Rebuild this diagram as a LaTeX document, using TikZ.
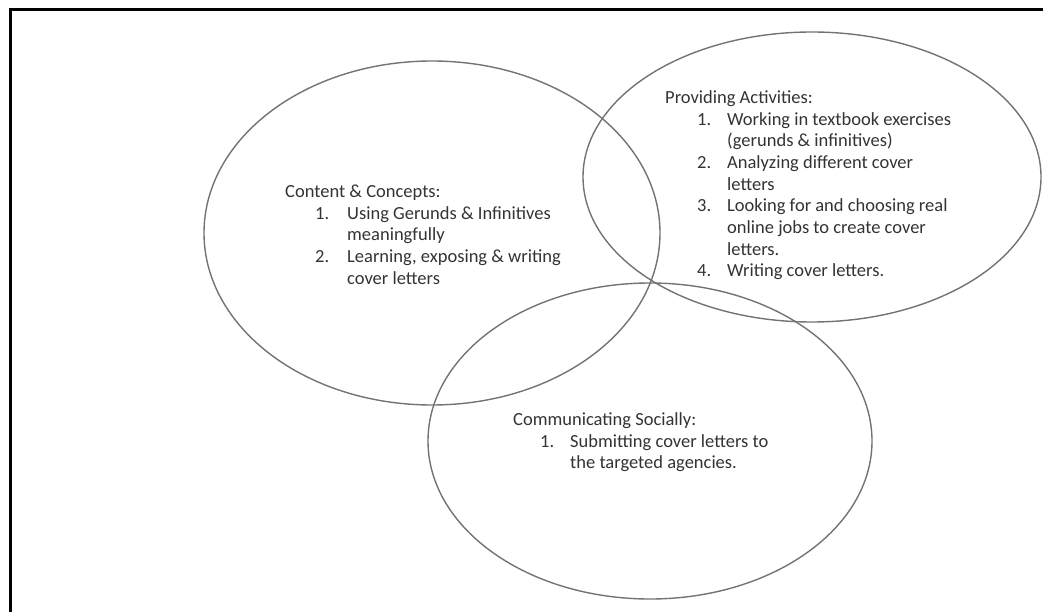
\documentclass[tikz,border=0pt]{standalone}
\usepackage{fontspec}
\setmainfont{Carlito}
\usepackage{array}
\begin{document}
\begin{tikzpicture}[x=1pt,y=-1pt,
  ring/.style={draw=black!55,line width=1.4pt},
  frameline/.style={draw=black,line width=3pt},
  txt/.style={inner sep=0pt,anchor=north west,text=black!80,font=\fontsize{18.5}{21.7}\selectfont}]
\useasboundingbox (0,0) rectangle (1043,612);
\draw[frameline] (9,10) coordinate (ftl) -- (1043,10) coordinate (ftr);
\draw[frameline] (10,9) -- (10,612) coordinate (fbl);
% ellipses
\draw[ring] (432,233) ellipse [x radius=228pt, y radius=172pt];
\draw[ring] (812,177) ellipse [x radius=229pt, y radius=145pt];
\draw[ring] (650,441) ellipse [x radius=222pt, y radius=158pt];
% texts
\node[txt] (cc) at (285,182) {\begin{tabular}{@{}p{30pt}@{}p{32pt}@{}l@{}}
\multicolumn{3}{@{}l@{}}{Content \& Concepts:}\\
 & 1. & Using Gerunds \& Infinitives\\
 & & meaningfully\\
 & 2. & Learning, exposing \& writing\\
 & & cover letters
\end{tabular}};
\node[txt] (pa) at (665,88) {\begin{tabular}{@{}p{32pt}@{}p{30pt}@{}l@{}}
\multicolumn{3}{@{}l@{}}{Providing Activities:}\\
 & 1. & Working in textbook exercises\\
 & & (gerunds \& infinitives)\\
 & 2. & Analyzing different cover\\
 & & letters\\
 & 3. & Looking for and choosing real\\
 & & online jobs to create cover\\
 & & letters.\\
 & 4. & Writing cover letters.
\end{tabular}};
\node[txt] (cs) at (513,410) {\begin{tabular}{@{}p{27pt}@{}p{30pt}@{}l@{}}
\multicolumn{3}{@{}l@{}}{Communicating Socially:}\\
 & 1. & Submitting cover letters to\\
 & & the targeted agencies.
\end{tabular}};
\end{tikzpicture}
\end{document}
